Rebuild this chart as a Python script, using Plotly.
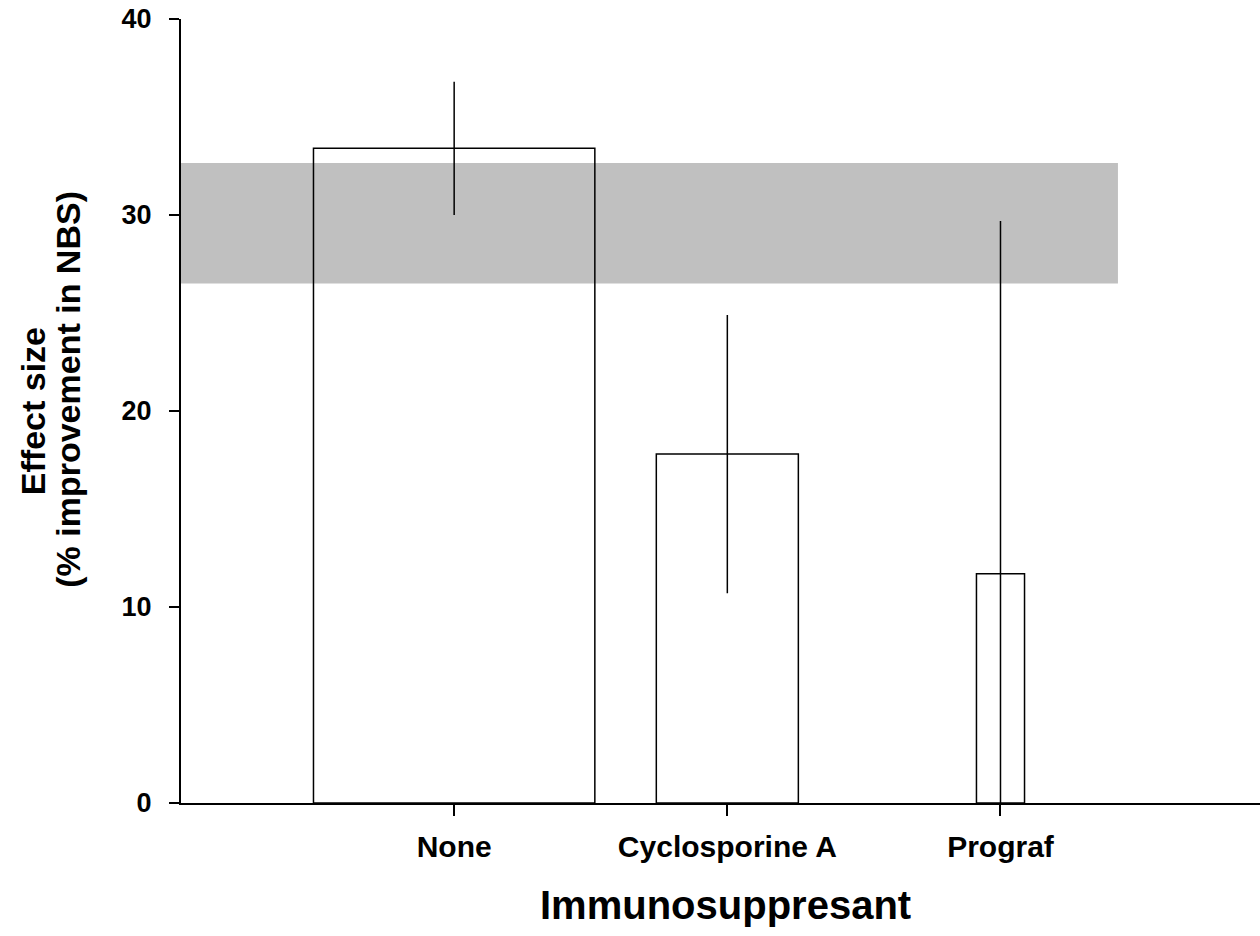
import plotly.graph_objects as go

# Effect size per immunosuppressant (mean, +/- error), bar width scaled to group size
categories = ["None", "Cyclosporine A", "Prograf"]
positions = [1, 2, 3]
effect = [33.4, 17.8, 11.7]
error = [3.4, 7.1, 18.0]
bar_widths = [1.03, 0.52, 0.176]

# Pooled reference interval drawn as a grey band
band_low = 26.5
band_high = 32.65
band_x_end = 3.43

y_ticks = [0, 10, 20, 30, 40]

FONT = "Liberation Sans, Arial, sans-serif"

fig = go.Figure()

fig.add_trace(go.Bar(
    x=positions,
    y=effect,
    width=bar_widths,
    marker=dict(color="rgba(0,0,0,0)", line=dict(color="black", width=1.5)),
    error_y=dict(type="data", array=error, symmetric=True, width=0,
                 thickness=1.5, color="black"),
    showlegend=False,
))

fig.add_shape(type="rect", xref="x", yref="y",
              x0=0, x1=band_x_end, y0=band_low, y1=band_high,
              fillcolor="#c0c0c0", line=dict(width=0), layer="below")

# Axis titles placed as annotations so each line can be positioned on its own
title_font = dict(family=FONT, size=34, weight="bold", color="black")
fig.add_annotation(text="Effect size", textangle=-90, showarrow=False,
                   xref="paper", yref="paper", x=-0.137, y=0.5,
                   xanchor="center", yanchor="middle", font=title_font)
fig.add_annotation(text="(% improvement in NBS)", textangle=-90, showarrow=False,
                   xref="paper", yref="paper", x=-0.105, y=0.528,
                   xanchor="center", yanchor="middle", font=title_font)
fig.add_annotation(text="Immunosuppresant", showarrow=False,
                   xref="paper", yref="paper", x=0.505, y=-0.13,
                   xanchor="center", yanchor="middle",
                   font=dict(family=FONT, size=40, weight="bold", color="black"))

fig.update_layout(
    width=1260, height=936,
    margin=dict(l=181, r=0, t=19, b=133, autoexpand=False),
    paper_bgcolor="white", plot_bgcolor="white",
    font=dict(family=FONT, color="black"),
    xaxis=dict(
        range=[0, 3.95],
        tickvals=positions, ticktext=categories,
        ticks="outside", ticklen=11, tickwidth=1.5, tickcolor="black",
        showline=True, linecolor="black", linewidth=2,
        showgrid=False, zeroline=False,
        tickfont=dict(family=FONT, size=30, weight="bold"),
        ticklabelstandoff=5,
    ),
    yaxis=dict(
        range=[0, 40],
        tickvals=y_ticks,
        ticks="outside", ticklen=10, tickwidth=1.5, tickcolor="black",
        showline=True, linecolor="black", linewidth=2,
        showgrid=False, zeroline=False,
        tickfont=dict(family=FONT, size=27, weight="bold"),
        ticklabelstandoff=12,
    ),
)

fig.write_html("out.html")
